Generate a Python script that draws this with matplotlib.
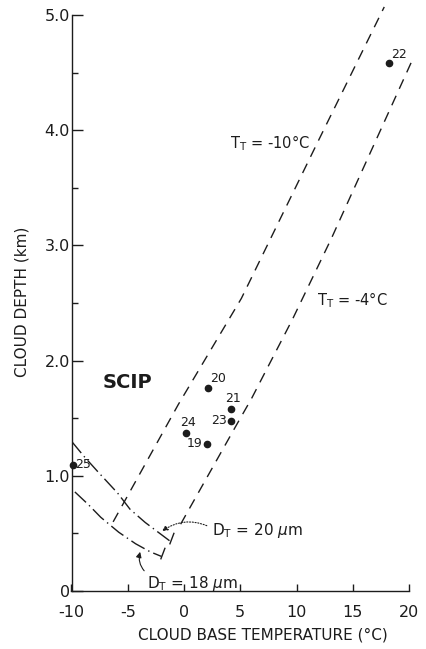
import numpy as np
import matplotlib.pyplot as plt

# numbered SCIP cases: cloud base temperature (C) and cloud depth (km)
case_ids = ['19', '20', '21', '22', '23', '24', '25']
case_temp = [2.0, 2.1, 4.2, 18.2, 4.2, 0.2, -9.9]
case_depth = [1.28, 1.76, 1.58, 4.58, 1.48, 1.37, 1.09]

# cloud top temperature lines
tt10_temp = [-6.3, -0.5, 5.1, 11.9, 17.8]
tt10_depth = [0.60, 1.62, 2.54, 3.90, 5.07]
tt4_temp = [-0.3, 4.6, 6.0, 9.65, 13.1, 20.3]
tt4_depth = [0.58, 1.43, 1.67, 2.36, 3.06, 4.61]

# threshold droplet diameter curves
dt20_temp = [-10.0, -8.9, -7.7, -5.9, -4.8, -3.45, -2.7, -1.2]
dt20_depth = [1.30, 1.17, 1.04, 0.85, 0.71, 0.595, 0.54, 0.43]
dt18_temp = [-9.7, -8.5, -7.4, -5.8, -4.3, -3.0, -2.0]
dt18_depth = [0.86, 0.75, 0.64, 0.51, 0.41, 0.34, 0.30]

xticks = [-10, -5, 0, 5, 10, 15, 20]
xticklabels = ['-10', '-5', '0', '5', '10', '15', '20']
yticks = [0, 1, 2, 3, 4, 5]
yticklabels = ['0', '1.0', '2.0', '3.0', '4.0', '5.0']

# label offsets in points (ha, va) for the case numbers
offsets = {'19': (-3, 0, 'right', 'center'), '20': (2, 2, 'left', 'bottom'),
           '21': (1, 3, 'center', 'bottom'), '22': (2, 2, 'left', 'bottom'),
           '23': (-3, 0, 'right', 'center'), '24': (1, 3, 'center', 'bottom'),
           '25': (2, 1, 'left', 'center')}

ink = '#1c1c1c'
plt.rcParams['font.family'] = 'DejaVu Sans'

fig = plt.figure(figsize=(4.26, 6.49), dpi=100)
ax = fig.add_axes([71.5 / 426, 58 / 649, 337.5 / 426, 576 / 649])
ax.set_xlim(-10, 20)
ax.set_ylim(0, 5)

for s in ['top', 'right']:
    ax.spines[s].set_visible(False)
for s in ['left', 'bottom']:
    ax.spines[s].set_linewidth(1.0)
    ax.spines[s].set_color(ink)

ax.set_xticks(xticks)
ax.set_xticklabels(xticklabels)
ax.set_yticks(yticks)
ax.set_yticklabels(yticklabels)
ax.set_yticks(np.arange(0.5, 5, 1.0), minor=True)
ax.tick_params(axis='x', direction='in', length=5, width=1.0, pad=10,
               labelsize=11.5, colors=ink)
ax.tick_params(axis='y', direction='in', length=8, width=1.0, pad=1,
               labelsize=11.5, colors=ink)
ax.tick_params(axis='y', which='minor', direction='in', length=4, width=1.0,
               colors=ink)

dash = dict(color=ink, lw=1.0, linestyle=(0, (7.5, 5.5)), clip_on=False)
ax.plot(tt10_temp, tt10_depth, **dash)
ax.plot(tt4_temp, tt4_depth, **dash)

dashdot = dict(color=ink, lw=1.0, linestyle=(0, (11, 3, 1, 3)))
ax.plot(dt20_temp, dt20_depth, **dashdot)
ax.plot(dt18_temp, dt18_depth, **dashdot)
# short end marks on the diameter curves
for tx, ty in [(dt20_temp[-1], dt20_depth[-1]), (dt18_temp[-1], dt18_depth[-1])]:
    ax.plot([tx - 0.05, tx + 0.3], [ty - 0.02, ty + 0.07], color=ink, lw=1.0)

ax.plot(case_temp, case_depth, 'o', color=ink, ms=4.5, clip_on=False)
for cid, cx, cy in zip(case_ids, case_temp, case_depth):
    dx, dy, ha, va = offsets[cid]
    ax.annotate(cid, (cx, cy), xytext=(dx, dy), textcoords='offset points',
                ha=ha, va=va, fontsize=9, color=ink)

ax.text(4.1, 3.84, 'T$_{\\rm T}$ = -10°C', fontsize=10.5, color=ink,
        ha='left', va='baseline')
ax.text(11.8, 2.48, 'T$_{\\rm T}$ = -4°C', fontsize=10.5, color=ink,
        ha='left', va='baseline')
ax.text(-7.2, 1.81, 'SCIP', fontsize=14, fontweight='bold', color=ink,
        ha='left', va='center')

ax.annotate('D$_{\\rm T}$ = 20 $\\mu$m', xy=(-1.95, 0.52), xytext=(2.5, 0.49),
            fontsize=11, color=ink, ha='left', va='baseline',
            arrowprops=dict(arrowstyle='-|>', mutation_scale=8, lw=0.8,
                            color=ink, linestyle=(0, (1, 1.5)),
                            connectionstyle='arc3,rad=0.3',
                            relpos=(0, 0.6), shrinkA=2, shrinkB=0))
ax.annotate('D$_{\\rm T}$ = 18 $\\mu$m', xy=(-3.9, 0.34), xytext=(-3.3, 0.03),
            fontsize=11, color=ink, ha='left', va='baseline',
            arrowprops=dict(arrowstyle='-|>', mutation_scale=8, lw=0.8,
                            color=ink, connectionstyle='arc3,rad=-0.3',
                            relpos=(0, 1), shrinkA=0, shrinkB=0))

fig.text(263 / 426, 1 - 635 / 649, 'CLOUD BASE TEMPERATURE (°C)', fontsize=11,
         color=ink, ha='center', va='center')
fig.text(22 / 426, 1 - 302 / 649, 'CLOUD DEPTH (km)', fontsize=11, color=ink,
         ha='center', va='center', rotation=90)

fig.savefig('out.png', dpi=100)
